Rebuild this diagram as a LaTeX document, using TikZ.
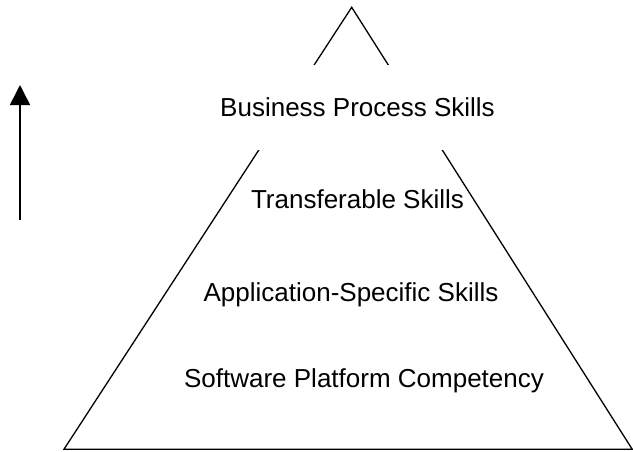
\documentclass[tikz,border=0pt]{standalone}
\usepackage{fontspec}
\setmainfont{Liberation Sans}
\usetikzlibrary{arrows.meta}
\begin{document}
\begin{tikzpicture}[x=1pt,y=-1pt,
  edge/.style={line width=1.3pt, line join=miter},
  label/.style={anchor=base, inner sep=0pt, font=\fontsize{26pt}{31pt}\selectfont},
  maskbox/.style={fill=white, draw=none, inner sep=0pt, minimum width=300pt, minimum height=85pt},
  uparrow/.style={line width=1.6pt, -{Triangle[length=20pt,width=20pt]}}]
\useasboundingbox (0,0) rectangle (633,451);
% triangle
\coordinate (apex) at (351.7,7.3);
\coordinate (bl) at (64,449.2);
\coordinate (br) at (632.2,449.2);
\draw[edge] (apex) -- (bl) -- (br) -- cycle;
% white box behind the top label
\node[maskbox] (mask) at (351,107.5) {};
% labels
\node[label] (bps) at (357.5,116.7) {Business Process Skills};
\node[label] (ts) at (357.5,208.3) {Transferable Skills};
\node[label] (ass) at (351,301) {Application-Specific Skills};
\node[label] (spc) at (364,387.7) {Software Platform Competency};
% arrow
\coordinate (abot) at (20,220);
\coordinate (atop) at (20,85);
\draw[uparrow] (abot) -- (atop);
\end{tikzpicture}
\end{document}
